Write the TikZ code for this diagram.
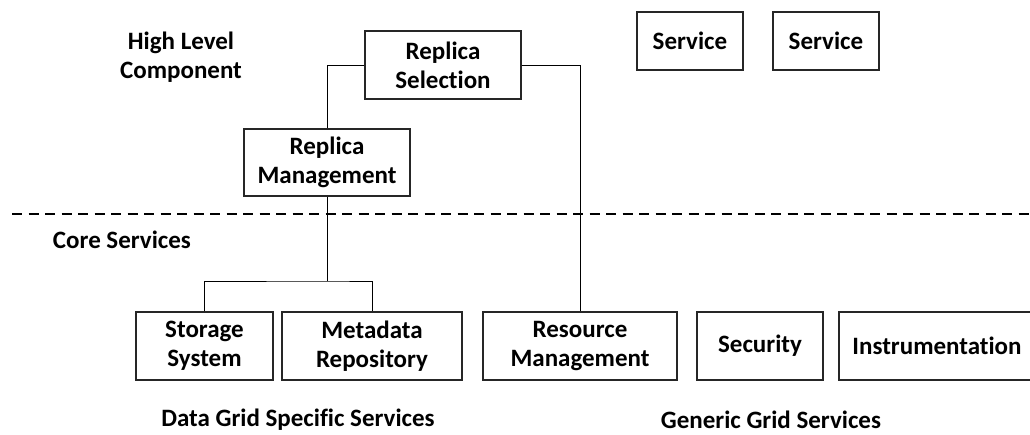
\documentclass[tikz,border=0pt]{standalone}
\usepackage{fontspec}
\setmainfont{Carlito}[Ligatures=NoCommon]
\begin{document}
\begin{tikzpicture}[x=1pt,y=-1pt,
  every node/.style={font=\fontsize{25}{29}\selectfont\bfseries, align=center, inner sep=0pt},
  box/.style={draw=black!85, line width=1.3pt, rectangle},
  link/.style={draw=black, line width=1pt},
  layer/.style={draw=black, line width=2.4pt, dash pattern=on 10pt off 6.5pt}]
\useasboundingbox (0,0) rectangle (1030,434);
\clip (0,0) rectangle (1030,434);

% high level components
\node[box, minimum width=156pt, minimum height=68pt] (rs) at (443,65) {Replica\\Selection};
\node[box, minimum width=166pt, minimum height=67pt] (rm) at (327,162.5) {Replica\\Management};
\node[box, minimum width=106pt, minimum height=58pt] (sv1) at (690,41) {Service};
\node[box, minimum width=106pt, minimum height=58pt] (sv2) at (826,41) {Service};

% core services
\node[box, minimum width=137pt, minimum height=68pt] (ss) at (204.5,346) {Storage\\System};
\node[box, minimum width=180pt, minimum height=68pt] (mr) at (372,346) {Metadata\\Repository};
\node[box, minimum width=194pt, minimum height=68pt] (res) at (580,346) {Resource\\Management};
\node[box, minimum width=126pt, minimum height=68pt] (sec) at (760,346) {Security};
\node[box, minimum width=196pt, minimum height=68pt] (ins) at (937,346) {Instrumentation};

% layer labels
\node (hl) at (181,57) {High Level\\Component};
\node (cs) at (122,240) {Core Services};
\node (dg) at (298,420) {Data Grid Specific Services};
\node (gg) at (771,420) {Generic Grid Services};

% layer boundary
\coordinate (dl) at (12,214);
\coordinate (dr) at (1032,214);
\draw[layer] (dl) -- (dr);

% connectors
\coordinate (j) at (327,281);
\draw[link] (rs.west) -| (rm.north);
\draw[link] (rs.east) -| (res.north);
\draw[link] (rm.south) -- (j);
\draw[link] (ss.north) |- (j) -| (mr.north);
\end{tikzpicture}
\end{document}
